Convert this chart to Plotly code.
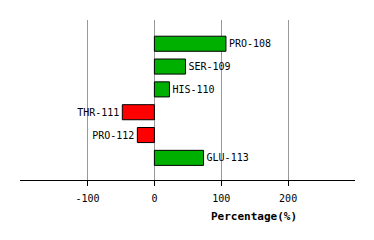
import plotly.graph_objects as go

residues = ["PRO-108", "SER-109", "HIS-110", "THR-111", "PRO-112", "GLU-113"]
percent = [107, 46.5, 22.5, -48, -25.5, 73.5]
tick_vals = [-100, 0, 100, 200]
tick_text = ["-100", "0", "100", "200"]

colors = ["#00B000" if v >= 0 else "#FF0000" for v in percent]
mono = "DejaVu Sans Mono"

fig = go.Figure(go.Bar(
    x=percent, y=residues, orientation="h",
    marker=dict(color=colors, line=dict(color="black", width=1)),
    width=0.66,
    text=residues, textposition="outside",
    textfont=dict(family=mono, size=10, color="black"),
    cliponaxis=False,
))

plot_w = 374 - 20 - 19
plot_h = 240 - 20 - 60

fig.update_layout(
    width=374, height=240,
    margin=dict(l=20, r=19, t=20, b=60),
    paper_bgcolor="white", plot_bgcolor="white",
    showlegend=False,
    xaxis=dict(
        range=[-201, 300], tickvals=tick_vals, ticktext=tick_text,
        showgrid=True, gridcolor="#999999", gridwidth=1,
        zeroline=False, showline=True, linecolor="black", linewidth=1,
        ticks="outside", ticklen=5, tickcolor="black",
        ticklabelstandoff=4,
        tickfont=dict(family=mono, size=10, color="black"),
    ),
    yaxis=dict(
        range=[5.97, -1.04], showticklabels=False, showgrid=False,
        zeroline=False, showline=False, ticks="",
    ),
    annotations=[dict(
        text="<b>Percentage(%)</b>",
        x=(254 - 20) / plot_w, y=(180 - 216) / plot_h,
        xref="paper", yref="paper", xanchor="center", yanchor="middle",
        showarrow=False, font=dict(family=mono, size=11, color="black"),
    )],
)

fig.write_html("out.html")
